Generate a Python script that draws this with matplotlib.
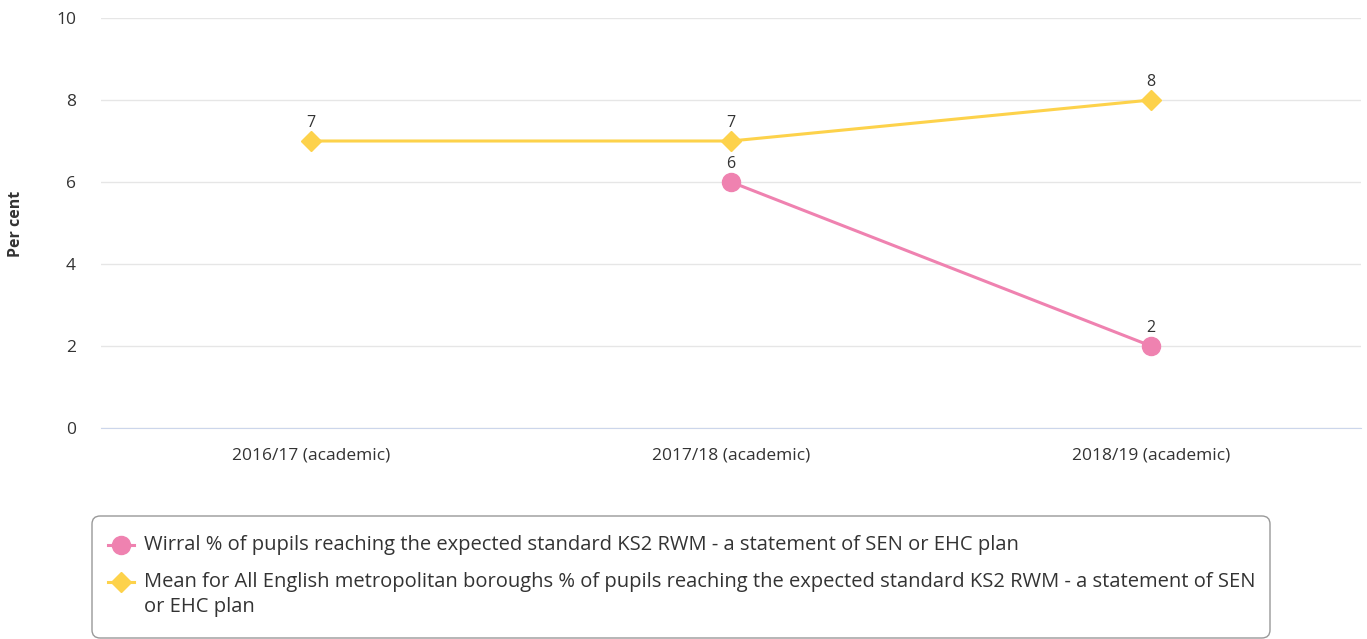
import matplotlib.pyplot as plt
from matplotlib.patches import FancyBboxPatch
from matplotlib.lines import Line2D

plt.rcParams['font.family'] = ['Open Sans', 'DejaVu Sans']

years = ['2016/17 (academic)', '2017/18 (academic)', '2018/19 (academic)']
wirral = [None, 6, 2]
mean_metro = [7, 7, 8]

wirral_name = 'Wirral % of pupils reaching the expected standard KS2 RWM - a statement of SEN or EHC plan'
mean_name_1 = 'Mean for All English metropolitan boroughs % of pupils reaching the expected standard KS2 RWM - a statement of SEN'
mean_name_2 = 'or EHC plan'

pink = '#ef82b0'
yellow = '#fdd24b'
txt = '#333333'

fig = plt.figure(figsize=(13.67, 6.39), dpi=100)
ax = fig.add_axes([101/1367, 1-428/639, 1260/1367, 410/639])

xs = list(range(len(years)))
wx = [x for x, v in zip(xs, wirral) if v is not None]
wy = [v for v in wirral if v is not None]

ax.plot(xs, mean_metro, color=yellow, lw=2.2, marker='D', ms=10, zorder=3)
ax.plot(wx, wy, color=pink, lw=2.2, marker='o', ms=13, zorder=4)

for x, v in zip(xs, mean_metro):
    ax.annotate(str(v), (x, v), xytext=(0, 7.5), textcoords='offset points',
                ha='center', va='bottom', fontsize=11.5, color=txt)
for x, v in zip(wx, wy):
    ax.annotate(str(v), (x, v), xytext=(0, 7.5), textcoords='offset points',
                ha='center', va='bottom', fontsize=11.5, color=txt)

ax.set_xlim(-0.5, 2.5)
ax.set_ylim(0, 10)
ax.set_yticks([0, 2, 4, 6, 8, 10])
ax.set_xticks(xs)
ax.set_xticklabels(years)
ax.tick_params(axis='x', length=0, pad=14, labelsize=12.5, labelcolor=txt)
ax.tick_params(axis='y', length=0, pad=18, labelsize=12.5, labelcolor=txt)
ax.grid(axis='y', color='#e6e6e6', lw=1)
ax.set_axisbelow(True)
for s in ['top', 'right', 'left']:
    ax.spines[s].set_visible(False)
ax.spines['bottom'].set_color('#ccd6eb')
fig.text(16/1367, 1-224/639, 'Per cent', fontsize=11.5, fontweight='bold', color=txt,
         rotation=90, ha='center', va='center')

# legend box
box = FancyBboxPatch((92/1367, 1-638/639), (1270-92)/1367, (638-516)/639,
                     boxstyle='round,pad=0,rounding_size=0.006',
                     transform=fig.transFigure, facecolor='white',
                     edgecolor='#999999', lw=1, mutation_aspect=2.1)
fig.patches.append(box)

fig.add_artist(Line2D([108/1367, 134/1367], [1-545/639]*2, color=pink, lw=2.2,
                      transform=fig.transFigure))
fig.add_artist(Line2D([121/1367], [1-545/639], color=pink, marker='o', ms=13,
                      transform=fig.transFigure))
fig.add_artist(Line2D([108/1367, 134/1367], [1-582/639]*2, color=yellow, lw=2.2,
                      transform=fig.transFigure))
fig.add_artist(Line2D([121/1367], [1-582/639], color=yellow, marker='D', ms=10,
                      transform=fig.transFigure))

fig.text(144/1367, 1-545/639, wirral_name, fontsize=14.5, color=txt, va='center')
fig.text(144/1367, 1-582/639, mean_name_1, fontsize=14.5, color=txt, va='center')
fig.text(144/1367, 1-607/639, mean_name_2, fontsize=14.5, color=txt, va='center')

fig.savefig('out.png', dpi=100)
